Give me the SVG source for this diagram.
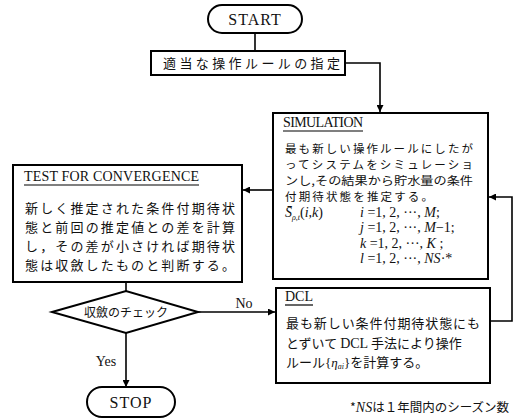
<svg xmlns="http://www.w3.org/2000/svg" width="516" height="419" viewBox="0 0 516 419">
<defs>
<style>
.box{fill:#fff;stroke:#000;stroke-width:2}
.ln{fill:none;stroke:#000;stroke-width:1.6}
.jp{font-family:"Noto Sans CJK JP","Liberation Sans",sans-serif;fill:#111}
.en{font-family:"Liberation Serif",serif;fill:#111}
.it{font-style:italic}
.ul{stroke:#000;stroke-width:1.2}
</style>
<marker id="ah" viewBox="0 0 10 10" refX="10" refY="5" markerWidth="7" markerHeight="7" orient="auto" markerUnits="userSpaceOnUse">
<path d="M0,0 L10,5 L0,10 z" fill="#000"/>
</marker>
</defs>
<rect width="516" height="419" fill="#fff"/>

<g id="connectors">
<path class="ln" d="M255,33 V51"/>
<path class="ln" d="M345,63 H380 V112" marker-end="url(#ah)"/>
<path class="ln" d="M490,321 H512 V197 H489" marker-end="url(#ah)"/>
<path class="ln" d="M273,190 H243" marker-end="url(#ah)"/>
<path class="ln" d="M126,282 V291"/>
<path class="ln" d="M198,312 H275" marker-end="url(#ah)"/>
<path class="ln" d="M126,333 V387" marker-end="url(#ah)"/>
</g>

<g id="start">
<rect class="box" x="208" y="5" width="94" height="28" rx="14"/>
<text class="en" x="255" y="25" text-anchor="middle" font-size="16" letter-spacing="1">START</text>
</g>

<g id="init">
<rect class="box" x="151" y="51" width="194" height="24"/>
<text class="jp" x="163" y="68" textLength="177" font-size="13">適当な操作ルールの指定</text>
</g>

<g id="simulation">
<rect class="box" x="273" y="113" width="215" height="166"/>
<text class="en" x="283" y="127" font-size="14" textLength="80">SIMULATION</text>
<line class="ul" x1="283" y1="131" x2="363" y2="131"/>
<text class="jp" x="285" y="153" textLength="188" font-size="11.5">最も新しい操作ルールにしたが</text>
<text class="jp" x="285" y="169" textLength="188" font-size="11.5">ってシステムをシミュレーショ</text>
<text class="jp" x="285" y="185" textLength="188" lengthAdjust="spacingAndGlyphs" font-size="11.5">ンし,その結果から貯水量の条件</text>
<text class="jp" x="285" y="201" textLength="148" font-size="11.5">付期待状態を推定する。</text>
<text class="en" x="285" y="217" font-size="14"><tspan class="it">S̄</tspan><tspan class="it" font-size="8" dy="3">ρ,t</tspan><tspan dy="-3">(</tspan><tspan class="it">i,k</tspan>)</text>
<text class="en" x="360" y="217" font-size="14"><tspan class="it">i</tspan> =1, 2, ···, <tspan class="it">M</tspan>;</text>
<text class="en" x="360" y="232" font-size="14"><tspan class="it">j</tspan> =1, 2, ···, <tspan class="it">M</tspan>−1;</text>
<text class="en" x="360" y="247.5" font-size="14"><tspan class="it">k</tspan> =1, 2, ···, <tspan class="it">K</tspan> ;</text>
<text class="en" x="360" y="263" font-size="14"><tspan class="it">l</tspan> =1, 2, ···, <tspan class="it">NS</tspan>·*</text>
</g>

<g id="test">
<rect class="box" x="13" y="165" width="229" height="117"/>
<text class="en" x="24" y="181" font-size="14" textLength="175">TEST FOR CONVERGENCE</text>
<line class="ul" x1="24" y1="185" x2="199" y2="185"/>
<text class="jp" x="25" y="213" textLength="210" font-size="13">新しく推定された条件付期待状</text>
<text class="jp" x="25" y="232" textLength="210" font-size="13">態と前回の推定値との差を計算</text>
<text class="jp" x="25" y="251" textLength="210" font-size="13">し，その差が小さければ期待状</text>
<text class="jp" x="25" y="270" textLength="210" font-size="13">態は収斂したものと判断する。</text>
</g>

<g id="check">
<polygon class="box" points="52,312 126,291 198,312 126,333"/>
<text class="jp" x="126" y="316.5" text-anchor="middle" font-size="12">収斂のチェック</text>
</g>

<g id="labels">
<text class="en" x="244" y="308" text-anchor="middle" font-size="14">No</text>
<text class="en" x="106" y="366" text-anchor="middle" font-size="14">Yes</text>
</g>

<g id="dcl">
<rect class="box" x="276" y="288" width="214" height="95"/>
<text class="en" x="285" y="301" font-size="14">DCL</text>
<line class="ul" x1="285" y1="305" x2="313" y2="305"/>
<text class="jp" x="286" y="328" textLength="194" font-size="13">最も新しい条件付期待状態にも</text>
<text class="jp" x="286" y="348" font-size="13">とずいて <tspan font-family="Liberation Serif" font-size="14">DCL</tspan> 手法により操作</text>
<text class="jp" x="286" y="367" font-size="13">ルール<tspan font-family="Liberation Serif">{</tspan><tspan font-family="Liberation Serif" font-style="italic">η</tspan><tspan font-family="Liberation Serif" font-style="italic" font-size="8" dy="2">ai</tspan><tspan font-family="Liberation Serif" dy="-2">}</tspan>を計算する。</text>
</g>

<g id="stop">
<rect class="box" x="87" y="387" width="88" height="30" rx="15"/>
<text class="en" x="131" y="408" text-anchor="middle" font-size="16" letter-spacing="1">STOP</text>
</g>

<g id="footnote">
<text class="jp" x="350" y="412" font-size="12.5">*<tspan font-family="Liberation Serif" font-style="italic" font-size="14">NS</tspan>は１年間内のシーズン数</text>
</g>
</svg>
